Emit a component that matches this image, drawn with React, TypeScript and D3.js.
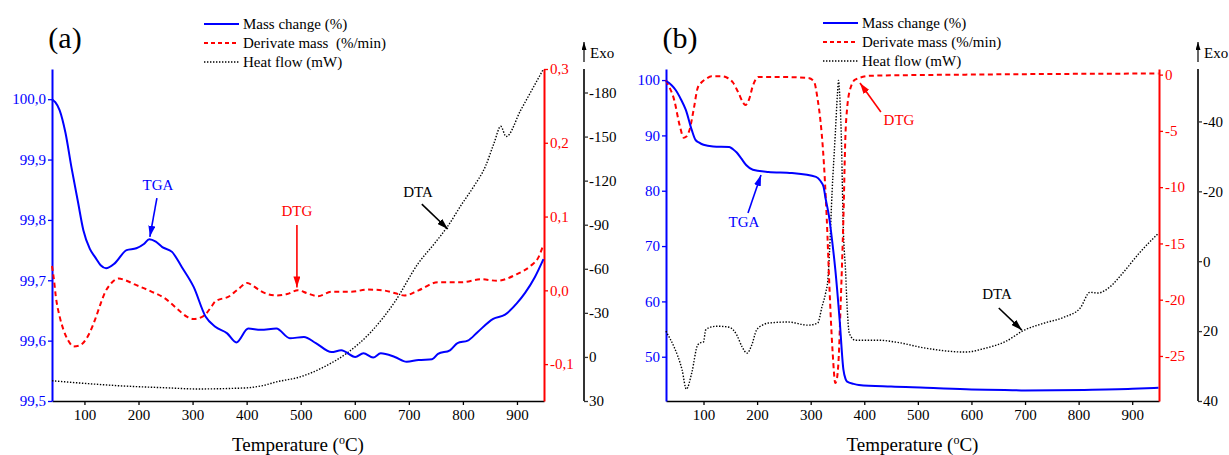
import { useEffect, useRef } from 'react';
import * as d3 from 'd3';

type Pt = [number, number];

// ---- panel (a): temperature (°C) vs value ----
const tgaA: Pt[] = [
  [40, 100.0], [46, 99.995], [54, 99.982], [65, 99.944], [76, 99.887], [88, 99.83], [98, 99.783],
  [110, 99.752], [120, 99.738], [130, 99.725], [140, 99.72], [156, 99.728], [178, 99.75], [196, 99.753],
  [210, 99.76], [220, 99.768], [232, 99.764], [244, 99.755], [262, 99.747], [280, 99.722], [302, 99.689],
  [324, 99.64], [342, 99.623], [364, 99.612], [381, 99.597], [403, 99.62], [426, 99.618], [455, 99.62],
  [480, 99.604], [506, 99.606], [528, 99.596], [557, 99.581], [575, 99.584], [601, 99.573], [616, 99.579],
  [634, 99.572], [648, 99.579], [674, 99.573], [696, 99.565], [718, 99.568], [743, 99.569], [754, 99.578],
  [776, 99.584], [790, 99.596], [809, 99.6], [827, 99.614], [856, 99.636], [878, 99.643], [900, 99.662],
  [915, 99.679], [933, 99.705], [949, 99.735],
];
const dtgA: Pt[] = [
  [40, 0.033], [44, 0.012], [47, -0.008], [54, -0.035], [61, -0.053], [70, -0.068], [80, -0.076],
  [90, -0.075], [98, -0.071], [110, -0.057], [120, -0.039], [130, -0.018], [138, -0.003], [150, 0.01],
  [163, 0.016], [178, 0.013], [193, 0.008], [222, -0.001], [251, -0.012], [273, -0.026], [290, -0.036],
  [302, -0.039], [320, -0.035], [335, -0.022], [342, -0.015], [368, -0.008], [385, 0.002], [401, 0.01],
  [412, 0.006], [426, -0.001], [455, -0.007], [475, -0.005], [495, 0.0], [512, -0.004], [532, -0.008],
  [557, -0.002], [594, -0.002], [623, 0.001], [652, 0.0], [675, -0.004], [692, -0.007], [718, 0.0],
  [754, 0.011], [798, 0.011], [834, 0.015], [863, 0.013], [900, 0.022], [925, 0.033], [940, 0.045],
  [949, 0.062],
];
const dtaA: Pt[] = [
  [40, 16.2], [100, 18], [163, 19.6], [250, 21], [309, 21.8], [397, 21.1], [430, 19.5], [455, 17],
  [499, 13.6], [543, 6.8], [586, -2.7], [630, -17], [674, -37.5], [718, -64], [747, -77], [772, -89],
  [798, -104], [820, -116], [842, -130], [858, -146], [870, -157], [880, -150], [907, -168], [949, -196],
];

// ---- panel (b) ----
const tgaB: Pt[] = [
  [30, 99.8], [32, 99.7], [40, 99.1], [48, 98.2], [58, 96.5], [67, 94.6], [78, 91], [85, 89.2],
  [92, 88.7], [100, 88.3], [118, 88], [148, 87.9], [155, 87.5], [162, 86.9], [170, 85.9], [180, 84.6],
  [192, 83.8], [221, 83.4], [265, 83.2], [310, 82.5], [318, 81.8], [324, 80.7], [328, 78.5], [334, 75.5],
  [340, 71], [346, 65.7], [354, 56.7], [361, 47.7], [365, 46], [368, 45.5], [380, 45.1], [390, 44.9],
  [450, 44.6], [515, 44.4], [600, 44.1], [662, 44], [700, 43.9], [810, 44], [900, 44.2], [949, 44.4],
];
const dtgB: Pt[] = [
  [30, -0.5], [32, -0.7], [45, -2.2], [56, -4.6], [63, -5.6], [68, -5.5], [74, -4.9], [82, -3],
  [89, -1.2], [96, -0.7], [104, -0.4], [115, -0.15], [133, -0.15], [145, -0.3], [155, -0.7], [165, -1.6],
  [174, -2.5], [178, -2.7], [185, -2.2], [192, -1.0], [203, -0.2], [236, -0.2], [295, -0.3], [306, -0.6],
  [313, -2.2], [318, -4], [323, -6.7], [330, -12.8], [335, -18.9], [341, -24.7], [346, -27.4],
  [349, -27], [352, -25.4], [356, -20.3], [361, -12.9], [365, -5.2], [368, -3], [372, -1.6], [383, -0.45],
  [412, -0.1], [589, 0], [949, 0.1],
];
const dtaB: Pt[] = [
  [30, 20], [32, 20.6], [45, 24.5], [60, 31.1], [68, 36.6], [78, 32], [89, 24], [95, 23.3], [100, 23.1],
  [104, 19.7], [115, 18.8], [126, 18.6], [148, 18.9], [162, 21.1], [172, 24.5], [181, 26.3], [190, 24],
  [199, 19.7], [210, 18.3], [221, 17.7], [258, 17.4], [295, 18.3], [313, 17.7], [321, 13.1], [328, 9],
  [332, 5.4], [335, -2.3], [340, -20], [346, -36.6], [350, -48], [352, -51.7], [354, -48], [357, -36.6],
  [361, -8.9], [365, 2.6], [368, 13], [372, 20.6], [383, 22.6], [427, 22.6], [457, 23.1], [515, 24.9],
  [589, 26], [626, 24.9], [662, 23.1], [699, 19.7], [736, 17.7], [773, 16], [803, 13.4], [821, 8.9],
  [836, 9.1], [858, 7.4], [884, 3.1], [913, -2.3], [949, -8],
];

const tempTicks = [100, 200, 300, 400, 500, 600, 700, 800, 900];
const massTicksA = [99.5, 99.6, 99.7, 99.8, 99.9, 100.0];
const dtgTicksA = [-0.1, 0, 0.1, 0.2, 0.3];
const dtaTicksA = [-180, -150, -120, -90, -60, -30, 0, 30];
const massTicksB = [50, 60, 70, 80, 90, 100];
const dtgTicksB = [-25, -20, -15, -10, -5, 0];
const dtaTicksB = [-40, -20, 0, 20, 40];
const legendA = ['Mass change (%)', 'Derivate mass  (%/min)', 'Heat flow (mW)'];
const legendB = ['Mass change (%)', 'Derivate mass (%/min)', 'Heat flow (mW)'];

const FONT = '"Liberation Serif", "Times New Roman", Times, serif';
const BLUE = '#0000ff';
const RED = '#ff0000';
const BLACK = '#000';
const AXIS_K = '#333';

type Note = { key: 'tga' | 'dtg' | 'dta'; text: string; label: Pt; tail: Pt; tip: Pt };

type Panel = {
  left: number; right: number; blackX: number;
  xDomain: Pt; massDomain: Pt; dtgDomain: Pt; dtaDomain: Pt;
  tga: Pt[]; dtg: Pt[]; dta: Pt[];
  massTicks: number[]; dtgTicks: number[]; dtaTicks: number[];
  massFmt: (d: number) => string; dtgFmt: (d: number) => string;
  legend: string[]; legendX: number; legendY: number;
  tag: string; tagX: number;
  notes: Note[];
};

const comma = (d: number) => d.toFixed(1).replace('.', ',');
const plain = (d: number) => String(d);

const panels: Panel[] = [
  {
    left: 52, right: 544, blackX: 584,
    xDomain: [40, 950], massDomain: [99.5, 100.05], dtgDomain: [-0.15, 0.3], dtaDomain: [30, -196],
    tga: tgaA, dtg: dtgA, dta: dtaA,
    massTicks: massTicksA, dtgTicks: dtgTicksA, dtaTicks: dtaTicksA,
    massFmt: comma, dtgFmt: comma,
    legend: legendA, legendX: 204, legendY: 24,
    tag: '(a)', tagX: 65,
    notes: [
      { key: 'tga', text: 'TGA', label: [236, 99.859], tail: [234, 99.836], tip: [221, 99.772] },
      { key: 'dtg', text: 'DTG', label: [493, 0.1075], tail: [493, 0.0886], tip: [493, 0.004] },
      { key: 'dta', text: 'DTA', label: [717, -112.3], tail: [724, -104], tip: [772, -87.1] },
    ],
  },
  {
    left: 666, right: 1159, blackX: 1198,
    xDomain: [30, 950], massDomain: [42, 102], dtgDomain: [-29, 0.5], dtaDomain: [40, -55],
    tga: tgaB, dtg: dtgB, dta: dtaB,
    massTicks: massTicksB, dtgTicks: dtgTicksB, dtaTicks: dtaTicksB,
    massFmt: plain, dtgFmt: plain,
    legend: legendB, legendX: 823, legendY: 23,
    tag: '(b)', tagX: 680,
    notes: [
      { key: 'tga', text: 'TGA', label: [175.6, 74.35], tail: [183, 75.98], tip: [207.3, 82.84] },
      { key: 'dtg', text: 'DTG', label: [464.8, -4.03], tail: [431, -3.32], tip: [392, -0.74] },
      { key: 'dta', text: 'DTA', label: [647.7, 9.4], tail: [651, 13.4], tip: [694, 19.7] },
    ],
  },
];

const TOP = 69;
const BOTTOM = 401;

const App = () => {
  const svgRef = useRef<SVGSVGElement | null>(null);

  useEffect(() => {
    const svgElement = svgRef.current;
    if (!svgElement) return;
    const svg = d3.select(svgElement);
    svg.selectAll('*').remove();

    const defs = svg.append('defs');
    const mk = (id: string, color: string, w: number, h: number) => {
      defs.append('marker')
        .attr('id', id)
        .attr('markerUnits', 'userSpaceOnUse')
        .attr('markerWidth', w).attr('markerHeight', h)
        .attr('refX', w).attr('refY', h / 2)
        .attr('orient', 'auto')
        .append('path')
        .attr('d', `M0,0 L${w},${h / 2} L0,${h} z`)
        .attr('fill', color);
    };
    mk('arr-tga', BLUE, 11, 7);
    mk('arr-dtg', RED, 11, 7);
    mk('arr-dta', BLACK, 11, 7);
    mk('arr-exo', BLACK, 8, 5);

    panels.forEach(p => {
      const g = svg.append('g').style('font-family', FONT);
      const x = d3.scaleLinear().domain(p.xDomain).range([p.left, p.right]);
      const yM = d3.scaleLinear().domain(p.massDomain).range([BOTTOM, TOP]);
      const yD = d3.scaleLinear().domain(p.dtgDomain).range([BOTTOM, TOP]);
      const yH = d3.scaleLinear().domain(p.dtaDomain).range([BOTTOM, TOP]);
      const scales = { tga: yM, dtg: yD, dta: yH };
      const colors = { tga: BLUE, dtg: RED, dta: BLACK };

      const styleAxis = (ag: d3.Selection<SVGGElement, unknown, null, undefined>, color: string, width: number) => {
        ag.attr('font-family', null).style('font-family', FONT);
        ag.select('.domain').attr('stroke', color).attr('stroke-width', width);
        ag.selectAll('.tick line').attr('stroke', color).attr('stroke-width', 1.3);
        ag.selectAll('.tick text').attr('fill', color).attr('font-size', 15).style('font-family', FONT);
      };

      // bottom axis
      const xa = g.append('g')
        .attr('transform', `translate(0,${BOTTOM})`)
        .call(d3.axisBottom(x).tickValues(tempTicks).tickSize(4).tickSizeOuter(0).tickPadding(4).tickFormat(d => String(d)));
      styleAxis(xa, BLACK, 1.5);

      // left mass axis
      const la = g.append('g')
        .attr('transform', `translate(${p.left},0)`)
        .call(d3.axisLeft(yM).tickValues(p.massTicks).tickSize(4).tickSizeOuter(0).tickPadding(2).tickFormat(d => p.massFmt(+d)));
      styleAxis(la, BLUE, 2);

      // right DTG axis
      const ra = g.append('g')
        .attr('transform', `translate(${p.right},0)`)
        .call(d3.axisRight(yD).tickValues(p.dtgTicks).tickSize(4).tickSizeOuter(0).tickPadding(2).tickFormat(d => p.dtgFmt(+d)));
      styleAxis(ra, RED, 2);

      // far right heat flow axis
      const ha = g.append('g')
        .attr('transform', `translate(${p.blackX},0)`)
        .call(d3.axisRight(yH).tickValues(p.dtaTicks).tickSize(4).tickSizeOuter(0).tickPadding(1).tickFormat(d => String(d)));
      styleAxis(ha, AXIS_K, 2);
      ha.select('.domain').attr('d', `M0,${TOP}V${BOTTOM}`);
      ha.selectAll('.tick text').attr('fill', BLACK);

      // Exo arrow
      g.append('line')
        .attr('x1', p.blackX).attr('x2', p.blackX)
        .attr('y1', 62).attr('y2', 42)
        .attr('stroke', BLACK).attr('stroke-width', 1.2)
        .attr('marker-end', 'url(#arr-exo)');
      g.append('text')
        .attr('x', p.blackX + 6).attr('y', 58)
        .attr('font-size', 15)
        .text('Exo');

      // series
      const mkLine = (ys: d3.ScaleLinear<number, number>) =>
        d3.line<Pt>().x(d => x(d[0])).y(d => ys(d[1])).curve(d3.curveMonotoneX);

      g.append('path').datum(p.dta)
        .attr('fill', 'none').attr('stroke', BLACK).attr('stroke-width', 1.4)
        .attr('stroke-dasharray', '1.4,1.6')
        .attr('d', mkLine(yH));
      g.append('path').datum(p.dtg)
        .attr('fill', 'none').attr('stroke', RED).attr('stroke-width', 2)
        .attr('stroke-dasharray', '5,3.5')
        .attr('d', mkLine(yD));
      g.append('path').datum(p.tga)
        .attr('fill', 'none').attr('stroke', BLUE).attr('stroke-width', 2)
        .attr('d', mkLine(yM));

      // annotations
      p.notes.forEach(n => {
        const ys = scales[n.key];
        g.append('line')
          .attr('x1', x(n.tail[0])).attr('y1', ys(n.tail[1]))
          .attr('x2', x(n.tip[0])).attr('y2', ys(n.tip[1]))
          .attr('stroke', colors[n.key]).attr('stroke-width', 1.6)
          .attr('marker-end', `url(#arr-${n.key})`);
        g.append('text')
          .attr('x', x(n.label[0])).attr('y', ys(n.label[1]))
          .attr('dy', '0.35em')
          .attr('text-anchor', 'middle')
          .attr('fill', colors[n.key])
          .attr('font-size', 15)
          .text(n.text);
      });

      // legend
      const styles = [
        { color: BLUE, dash: null, w: 2 },
        { color: RED, dash: '4,3', w: 2 },
        { color: BLACK, dash: '1.4,1.6', w: 1.4 },
      ];
      p.legend.forEach((lab, i) => {
        const yy = p.legendY + i * 19;
        g.append('line')
          .attr('x1', p.legendX).attr('x2', p.legendX + 35)
          .attr('y1', yy).attr('y2', yy)
          .attr('stroke', styles[i].color).attr('stroke-width', styles[i].w)
          .attr('stroke-dasharray', styles[i].dash);
        g.append('text')
          .attr('x', p.legendX + 39).attr('y', yy + 5)
          .attr('font-size', 15)
          .style('white-space', 'pre')
          .text(lab);
      });

      // panel tag
      g.append('text')
        .attr('x', p.tagX).attr('y', 48)
        .attr('text-anchor', 'middle')
        .attr('font-size', 30)
        .text(p.tag);

      // x title
      const t = g.append('text')
        .attr('x', (p.left + p.right) / 2).attr('y', 451)
        .attr('text-anchor', 'middle')
        .attr('font-size', 19);
      t.append('tspan').text('Temperature (');
      t.append('tspan').attr('font-size', 12).attr('dy', -7).text('o');
      t.append('tspan').attr('dy', 7).text('C)');
    });
  }, []);

  return (
    <div style={{ position: 'absolute', left: 0, top: 0 }}>
      <svg ref={svgRef} width={1229} height={455} style={{ display: 'block', background: '#fff' }} />
    </div>
  );
};

export default App;
